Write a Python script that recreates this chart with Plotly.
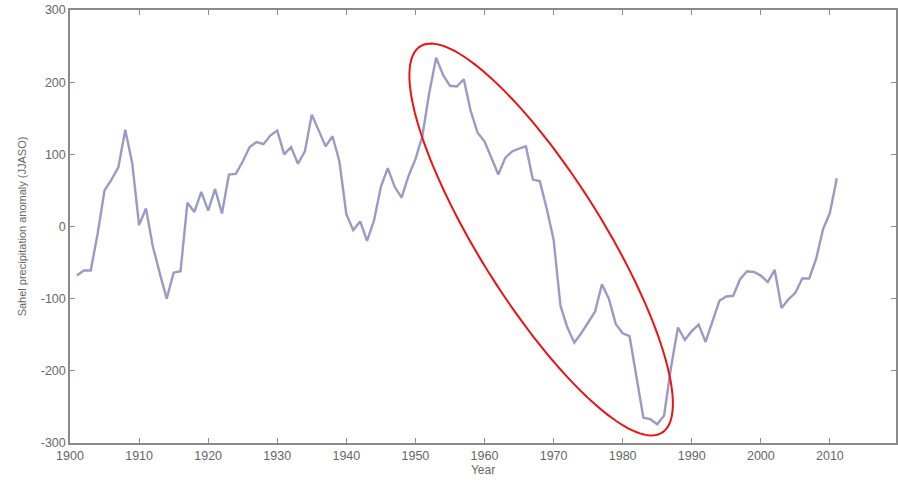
import numpy as np
import plotly.graph_objects as go

# Sahel rainfall anomaly (JJASO), yearly values
years = list(range(1901, 2012))
anomaly = [
    -68, -61, -61, -10, 50, 65, 82, 134, 88, 2,          # 1901-1910
    25, -28, -65, -100, -64, -62, 33, 20, 48, 22,        # 1911-1920
    52, 18, 72, 73, 90, 110, 117, 114, 126, 133,         # 1921-1930
    100, 110, 87, 104, 155, 133, 111, 125, 90, 17,       # 1931-1940
    -5, 7, -20, 8, 55, 81, 55, 40, 70, 93,               # 1941-1950
    125, 185, 234, 210, 195, 194, 204, 160, 130, 118,    # 1951-1960
    95, 72, 95, 104, 108, 111, 65, 63, 25, -18,          # 1961-1970
    -110, -140, -161, -148, -133, -118, -80, -100, -135, -148,  # 1971-1980
    -152, -210, -265, -267, -274, -262, -195, -140, -157, -145,  # 1981-1990
    -136, -160, -130, -103, -97, -96, -73, -62, -63, -68,        # 1991-2000
    -77, -60, -113, -101, -92, -72, -72, -45, -4, 19,            # 2001-2010
    67,                                                          # 2011
]

x_ticks = list(range(1900, 2011, 10))
y_ticks = list(range(-300, 301, 100))

W, H = 898, 481
margin = dict(l=70, r=0, t=10, b=38)
x_range = [1900, 1900 + (W - margin["l"] - margin["r"]) / 6.925]
y_range = [-300, 300]

plot_w = W - margin["l"] - margin["r"]
plot_h = H - margin["t"] - margin["b"]
px_per_year = plot_w / (x_range[1] - x_range[0])
px_per_unit = plot_h / (y_range[1] - y_range[0])

# Red highlight ellipse around the post-1950s decline (sizes in screen pixels)
ell_cx, ell_cy = 1968.2, -18
ell_a, ell_b = 228, 62
ell_theta = np.deg2rad(57.9)
t = np.linspace(0, 2 * np.pi, 181)
ex = ell_a * np.cos(t) * np.cos(ell_theta) - ell_b * np.sin(t) * np.sin(ell_theta)
ey = ell_a * np.cos(t) * np.sin(ell_theta) + ell_b * np.sin(t) * np.cos(ell_theta)
ell_x = ell_cx + ex / px_per_year
ell_y = ell_cy - ey / px_per_unit
path = "M " + " L ".join(f"{a:.3f},{b:.3f}" for a, b in zip(ell_x, ell_y)) + " Z"

fig = go.Figure()
fig.add_trace(go.Scatter(
    x=years, y=anomaly, mode="lines",
    line=dict(color="#9a9ac6", width=2.4),
    hoverinfo="skip", showlegend=False,
))

fig.add_shape(type="path", path=path, xref="x", yref="y",
              line=dict(color="#ee1111", width=2))

axis_common = dict(
    showline=True, linecolor="#8a8a8a", linewidth=1.5, mirror="ticks",
    ticks="inside", ticklen=5, tickcolor="#8a8a8a", tickwidth=1,
    showgrid=False, zeroline=False,
    tickfont=dict(family="Liberation Sans, Arial, sans-serif", size=12.5, color="#666666"),
)

fig.update_xaxes(
    range=x_range, tickvals=x_ticks, ticktext=[str(v) for v in x_ticks],
    title=dict(text="Year", standoff=4,
               font=dict(family="Liberation Sans, Arial, sans-serif", size=12, color="#666666")),
    **axis_common,
)
fig.update_yaxes(
    range=y_range, tickvals=y_ticks, ticktext=[str(v) for v in y_ticks],
    title=dict(text="Sahel precipitation anomaly (JJASO)", standoff=12,
               font=dict(family="Liberation Sans, Arial, sans-serif", size=11, color="#666666")),
    **axis_common,
)

fig.update_layout(
    width=W, height=H, margin=margin,
    paper_bgcolor="white", plot_bgcolor="white",
)

fig.write_html("out.html")
